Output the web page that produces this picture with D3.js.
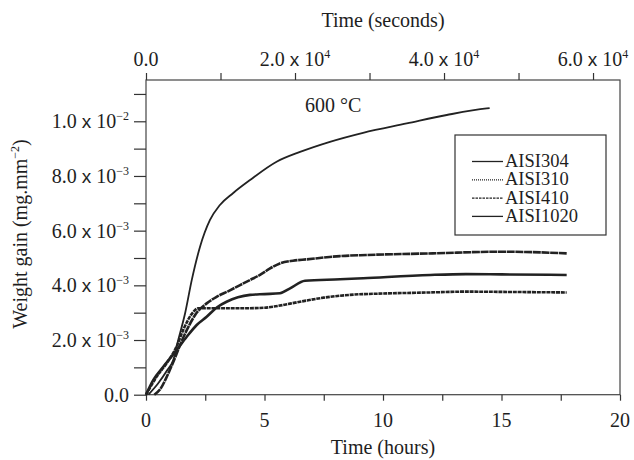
<!DOCTYPE html>
<html><head><meta charset="utf-8">
<script src="https://cdn.jsdelivr.net/npm/d3@7"></script>
<style>body{margin:0;background:#fff}svg{display:block}text{font-family:"Liberation Serif","Times New Roman",serif;fill:#1e1e1e}</style>
</head><body><svg id="c" width="634" height="460"></svg>
<script>
// ---- data (time in hours, weight gain in 1e-3 mg/mm^2) ----
const seriesNames = ["AISI304", "AISI310", "AISI410", "AISI1020"];
const aisi304 = [[0,0],[0.31,0.54],[0.73,1.02],[1.29,1.63],[1.72,2.12],[2.14,2.55],[2.56,2.85],[3.0,3.2],[3.4,3.4],[4.39,3.65],[5.0,3.68],[5.65,3.71],[6.08,3.89],[6.71,4.17],[8.19,4.22],[9.17,4.26],[12,4.38],[13.5,4.41],[15,4.4],[17.75,4.38]];
const aisi310 = [[0.35,0],[0.6,0.2],[0.9,0.7],[1.2,1.3],[1.5,1.95],[1.8,2.5],[2.1,2.95],[2.56,3.34],[2.98,3.58],[3.5,3.8],[3.97,4.01],[4.4,4.2],[4.81,4.38],[5.2,4.6],[5.65,4.8],[6.2,4.9],[6.78,4.95],[8.19,5.07],[9.31,5.11],[12.1,5.17],[14.94,5.23],[16,5.22],[17.75,5.17]];
const aisi410 = [[0,0],[0.45,0.66],[0.87,1.15],[1.29,1.76],[1.57,2.37],[2.0,3.03],[2.2,3.16],[3,3.16],[4,3.16],[5,3.18],[5.37,3.22],[6.5,3.40],[7.5,3.55],[8.75,3.66],[10,3.7],[12,3.74],[13.5,3.77],[15,3.76],[17.75,3.74]];
const aisi1020 = [[0.1,0],[0.5,0.4],[0.9,0.9],[1.15,1.27],[1.36,2.0],[1.65,2.98],[1.93,4.19],[2.28,5.41],[2.70,6.39],[3.12,6.94],[3.67,7.37],[4.39,7.85],[5.51,8.52],[6.5,8.88],[7.76,9.25],[9.16,9.58],[11.0,9.92],[12.69,10.23],[14.38,10.47],[14.5,10.48]];
const hourTicks = [0, 5, 10, 15, 20];
const secondTicks = [0, 20000, 40000, 60000];
const secondLabels = [["0.0","",""],["2.0","10","4"],["4.0","10","4"],["6.0","10","4"]];
const yTicks = [0, 2, 4, 6, 8, 10];
const yLabels = [["0.0","",""],["2.0","10","−3"],["4.0","10","−3"],["6.0","10","−3"],["8.0","10","−3"],["1.0","10","−2"]];
const annotation = "600 °C";

const svg = d3.select("#c");
const L = 146, R = 620, T = 80, B = 394.7;
const x = d3.scaleLinear().domain([0, 20]).range([L, R]);
const xs = d3.scaleLinear().domain([0, 63620]).range([L, R]);
const y = d3.scaleLinear().domain([0, 11.51]).range([B, T]);

const col = "#222";
const FS = 20;
// frame
svg.append("rect").attr("x", L).attr("y", T).attr("width", R - L).attr("height", B - T)
  .attr("fill", "none").attr("stroke", "#444").attr("stroke-width", 1.2);

function styleAxis(g){
  g.select(".domain").remove();
  g.selectAll(".tick line").attr("stroke", "#333").attr("stroke-width", 1.2);
  g.selectAll("text").remove();
}
function sciLabel(t, lab){
  t.append("tspan").text(lab[0]);
  if (lab[1]) {
    t.append("tspan").text(" ");
    t.append("tspan").attr("font-family", "'Liberation Sans',Arial,sans-serif").attr("font-size", 19).text("x");
    t.append("tspan").text(" " + lab[1]);
    t.append("tspan").attr("font-size", 12).attr("dy", -8).text(lab[2]);
  }
}
// bottom axis
const gb = svg.append("g").attr("transform", `translate(0,${B})`)
  .call(d3.axisBottom(x).tickValues(d3.range(0, 20.01, 2.5)).tickSize(6));
styleAxis(gb);
svg.append("g").selectAll("text").data(hourTicks).join("text")
  .attr("x", d => x(d)).attr("y", 427).attr("text-anchor", "middle").attr("font-size", FS).text(d => d);
// top axis
const gt = svg.append("g").attr("transform", `translate(0,${T})`)
  .call(d3.axisTop(xs).tickValues(d3.range(0, 63000, 10000)).tickSize(7));
styleAxis(gt);
svg.append("g").selectAll("text").data(secondTicks).join("text")
  .attr("x", d => xs(d)).attr("y", 66).attr("text-anchor", "middle").attr("font-size", FS)
  .each(function(d, i){ sciLabel(d3.select(this), secondLabels[i]); });
// left axis
const gl = svg.append("g").attr("transform", `translate(${L},0)`)
  .call(d3.axisLeft(y).tickValues(d3.range(0, 11.01, 1)).tickSize(12));
styleAxis(gl);
svg.append("g").selectAll("text").data(yTicks).join("text")
  .attr("x", 129).attr("y", d => y(d) + 7).attr("text-anchor", "end").attr("font-size", FS)
  .each(function(d, i){ sciLabel(d3.select(this), yLabels[i]); });

// axis titles
svg.append("text").attr("x", 383).attr("y", 27).attr("text-anchor", "middle").attr("font-size", FS).text("Time (seconds)");
svg.append("text").attr("x", 383).attr("y", 454).attr("text-anchor", "middle").attr("font-size", FS).text("Time (hours)");
const yt = svg.append("text").attr("transform", "translate(27,234) rotate(-90)").attr("text-anchor", "middle").attr("font-size", FS);
yt.append("tspan").text("Weight gain (mg.mm");
yt.append("tspan").attr("font-size", 12).attr("dy", -8).text("−2");
yt.append("tspan").attr("dy", 8).text(")");

// annotation
svg.append("text").attr("x", 305).attr("y", 112).attr("font-size", FS).text(annotation);

// lines
const line = d3.line().x(d => x(d[0])).y(d => y(d[1])).curve(d3.curveMonotoneX);
const series = [
  {name: seriesNames[0], data: aisi304, w: 2.6, dash: null, ldash: null},
  {name: seriesNames[1], data: aisi310, w: 2.6, dash: "8,0.7", ldash: "1,1"},
  {name: seriesNames[2], data: aisi410, w: 2.6, dash: "4,0.8", ldash: "2.5,1"},
  {name: seriesNames[3], data: aisi1020, w: 1.8, dash: null, ldash: null}
];
svg.append("g").selectAll("path").data(series).join("path")
  .attr("d", d => line(d.data)).attr("fill", "none").attr("stroke", col)
  .attr("stroke-width", d => d.w).attr("stroke-dasharray", d => d.dash).attr("stroke-linejoin", "round");

// legend
svg.append("rect").attr("x", 455).attr("y", 135).attr("width", 151).attr("height", 100)
  .attr("fill", "#fff").attr("stroke", "#333").attr("stroke-width", 1.2);
const lg = svg.append("g").selectAll("g").data(series).join("g")
  .attr("transform", (d, i) => `translate(472,${161.5 + i * 18.3})`);
lg.append("line").attr("x1", 0).attr("x2", 31).attr("stroke", col).attr("stroke-width", 1.3)
  .attr("stroke-dasharray", d => d.ldash);
lg.append("text").attr("x", 33).attr("y", 5.5).attr("font-size", 18.5).text(d => d.name);
</script></body></html>
